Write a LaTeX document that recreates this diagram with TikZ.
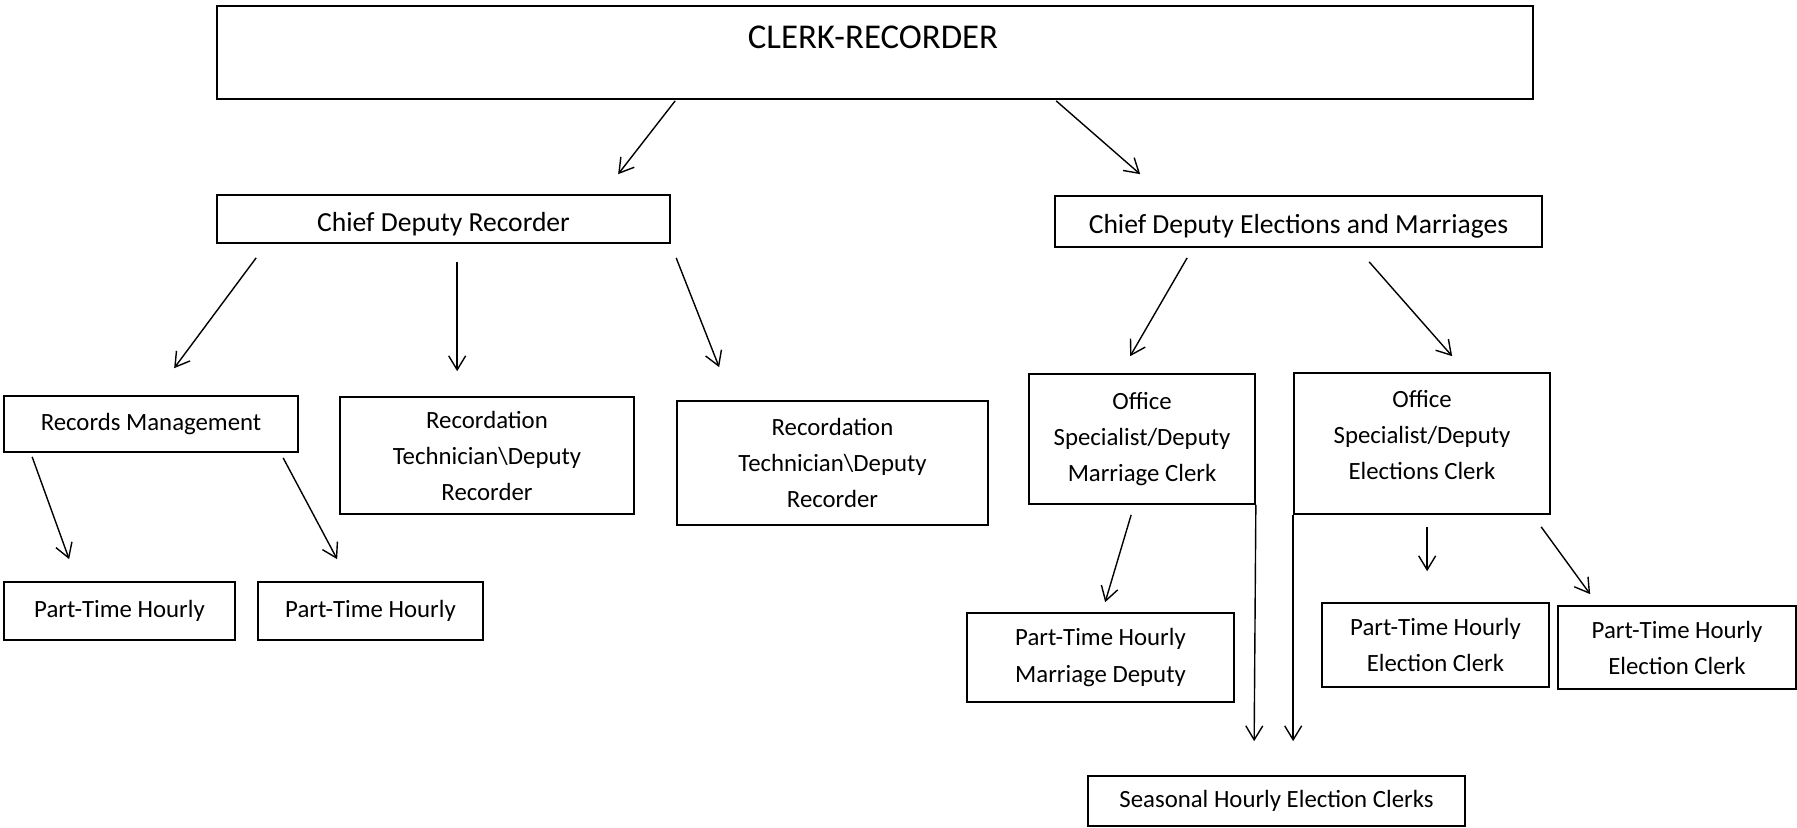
\documentclass[tikz,border=0pt]{standalone}
\usepackage{fontspec}
\setmainfont{Carlito}
\usetikzlibrary{arrows.meta,calc}
\begin{document}
\begin{tikzpicture}[x=0.5pt,y=-0.5pt,
  box/.style={draw, line width=0.85pt, inner sep=0pt, align=center, font=\fontsize{12.4}{18}\selectfont},
  chief/.style={box, font=\fontsize{13.8}{18}\selectfont, text height=12pt, text depth=0pt},
  arr/.style={-{Straight Barb[length=7pt,width=8.5pt]}, line width=0.7pt}]
\useasboundingbox[fill=white] (0,0) rectangle (1797,827);

\node[box, minimum width=658pt, minimum height=46.5pt] (top) at (875,52.5) {};
\node[font=\fontsize{17.4}{20}\selectfont, inner sep=0pt] (toptext) at ($(top.north)+(-2,32)$) {CLERK-RECORDER};

\node[chief, minimum width=226.5pt, minimum height=24pt] (cdr) at (443.5,219) {Chief Deputy Recorder};
\node[chief, minimum width=243.5pt, minimum height=25.5pt] (cdem) at (1298.5,221.5) {Chief Deputy Elections and Marriages};

\node[box, minimum width=147pt, minimum height=28pt] (rm) at (151,424) {Records Management};
\node[box, minimum width=147pt, minimum height=58.5pt] (rt1) at (487,455.5) {Recordation\\Technician\textbackslash Deputy\\Recorder};
\node[box, minimum width=155.5pt, minimum height=62pt] (rt2) at (832.5,463) {Recordation\\Technician\textbackslash Deputy\\Recorder};
\node[box, minimum width=113pt, minimum height=65pt] (osm) at (1142,439) {Office\\Specialist/Deputy\\Marriage Clerk};
\node[box, minimum width=128pt, minimum height=70.5pt, text depth=9pt] (ose) at (1422,443.5) {Office\\Specialist/Deputy\\Elections Clerk};

\node[box, minimum width=115.5pt, minimum height=29pt] (pth1) at (119.5,611) {Part-Time Hourly};
\node[box, minimum width=112.5pt, minimum height=29pt] (pth2) at (370.5,611) {Part-Time Hourly};
\node[box, minimum width=133.5pt, minimum height=44.5pt] (ptmd) at (1100.5,657.5) {Part-Time Hourly\\Marriage Deputy};
\node[box, minimum width=113.5pt, minimum height=42pt] (pte1) at (1435.5,645) {Part-Time Hourly\\Election Clerk};
\node[box, minimum width=119pt, minimum height=41.5pt] (pte2) at (1677,647.5) {Part-Time Hourly\\Election Clerk};
\node[box, minimum width=188.5pt, minimum height=25pt] (shec) at (1276.5,801) {Seasonal Hourly Election Clerks};

\draw[arr] ($(top.south west)+(459,1)$) -- ($(cdr.north west)+(402,-20)$);
\draw[arr] ($(top.south west)+(840,1)$) -- ($(cdem.north west)+(86,-21)$);

\draw[arr] ($(cdr.south west)+(40,14)$) -- ($(rm.north west)+(171,-27)$);
\draw[arr] ($(cdr.south west)+(241,18)$) -- ($(rt1.north west)+(118,-25)$);
\draw[arr] ($(cdr.south west)+(460,14)$) -- ($(rt2.north west)+(43,-33)$);

\draw[arr] ($(cdem.south west)+(133,10)$) -- ($(osm.north west)+(102,-17)$);
\draw[arr] ($(cdem.south west)+(315,14)$) -- ($(ose.north west)+(159,-16)$);

\draw[arr] ($(rm.south west)+(29,4)$) -- ($(pth1.north west)+(66,-22)$);
\draw[arr] ($(rm.south west)+(280,5)$) -- ($(pth2.north west)+(80,-22)$);

\draw[arr] ($(osm.south west)+(103,10)$) -- ($(ptmd.north west)+(139,-10)$);
\coordinate (s1) at ($(shec.north west)+(167,-34)$);
\coordinate (s2) at ($(shec.north west)+(206,-34)$);
\draw[arr] (osm.south east) -- (s1);
\draw[arr] (ose.south west) -- (s2);

\draw[arr] ($(ose.south west)+(134,12)$) -- ($(pte1.north west)+(106,-31)$);
\draw[arr] ($(ose.south west)+(248,12)$) -- ($(pte2.north west)+(33,-11)$);
\end{tikzpicture}
\end{document}
